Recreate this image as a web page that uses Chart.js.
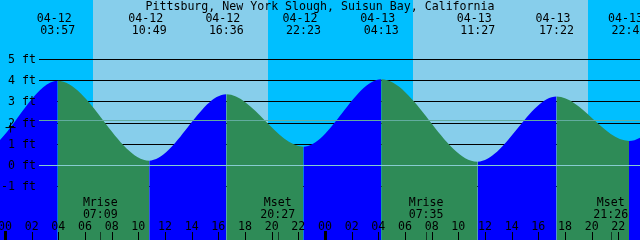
<!DOCTYPE html>
<html><head><meta charset="utf-8">
<script src="https://cdn.jsdelivr.net/npm/chart.js@4.4.1/dist/chart.umd.min.js"></script>
<style>html,body{margin:0;padding:0;background:#00BFFF;}canvas{display:block;}</style>
</head><body>
<canvas id="tideChart" width="640" height="240"></canvas>
<script>
const title = 'Pittsburg, New York Slough, Suisun Bay, California';

// highs and lows (first two and last two lie outside the window, they only shape the curve)
const tideEvents = ['04-11 15:50', '04-11 22:07', '04-12 03:57', '04-12 10:49', '04-12 16:36', '04-12 22:23',
                    '04-13 04:13', '04-13 11:27', '04-13 17:22', '04-13 22:48', '04-14 04:40', '04-14 12:05'];
const tideHeights = [3.4, 0.65, 4.0, 0.23, 3.36, 0.89, 4.07, 0.18, 3.25, 1.16, 4.0, 0.15];
const labelledEvents = [2, 3, 4, 5, 6, 7, 8, 9];

const sunrise = ['04-12 06:35', '04-13 06:35'];
const sunset = ['04-12 19:44', '04-13 19:44'];

const moonNames = ['Mrise', 'Mset', 'Mrise', 'Mset'];
const moonEvents = ['04-12 07:09', '04-12 20:27', '04-13 07:35', '04-13 21:26'];

const heightTicks = [-1, 0, 1, 2, 3, 4, 5];
const hourLabels = ['00', '02', '04', '06', '08', '10', '12', '14', '16', '18', '20', '22'];
const days = ['04-12', '04-13'];
const mslLevel = 2.12;
const datumLevel = 0;
const nowMark = { x: '04-12 00:25', y: 1.79 };

const NIGHT = '#00BFFF', DAY = '#87CEEB', RISE = '#0000FF', FALL = '#2E8B57';
const FONT = '11.6px "DejaVu Sans Mono"';

// 'MM-DD hh:mm' -> hours since 04-12 00:00
function toHours(s) {
    const day = parseInt(s.slice(3, 5), 10) - 12;
    return day * 24 + parseInt(s.slice(6, 8), 10) + parseInt(s.slice(9, 11), 10) / 60;
}

const tidePlugin = {
    id: 'tide',
    beforeDraw(chart) {
        const { ctx, scales: { x, y } } = chart;
        ctx.save();
        ctx.fillStyle = NIGHT; ctx.fillRect(0, 0, 640, 240);
        ctx.fillStyle = DAY;
        sunrise.forEach((r, i) => {
            const a = Math.round(x.getPixelForValue(toHours(r))), b = Math.round(x.getPixelForValue(toHours(sunset[i])));
            ctx.fillRect(a, 0, b - a, 240);
        });
        ctx.fillStyle = '#000';
        heightTicks.forEach(v => ctx.fillRect(39, Math.floor(y.getPixelForValue(v)), 601, 1));
        ctx.restore();
    },
    afterDatasetsDraw(chart) {
        const { ctx, scales: { x, y } } = chart;
        ctx.save();
        ctx.fillStyle = '#62AC9F'; ctx.fillRect(39, Math.floor(y.getPixelForValue(mslLevel)), 601, 1);
        ctx.fillStyle = '#86CCD0'; ctx.fillRect(39, Math.floor(y.getPixelForValue(datumLevel)), 601, 1);

        ctx.font = FONT; ctx.fillStyle = '#000'; ctx.textBaseline = 'alphabetic';
        ctx.textAlign = 'right';
        heightTicks.forEach(v => ctx.fillText(v + ' ft', 36, Math.floor(y.getPixelForValue(v)) + 4));

        ctx.textAlign = 'center';
        ctx.fillText(title, 320, 10);
        labelledEvents.forEach(i => {
            const px = x.getPixelForValue(toHours(tideEvents[i]));
            ctx.fillText(tideEvents[i].slice(0, 5), px - 3.5, 22);
            ctx.fillText(tideEvents[i].slice(6), px, 34);
        });

        moonEvents.forEach((m, i) => {
            const px = x.getPixelForValue(toHours(m));
            ctx.fillText(moonNames[i], px, 206);
            ctx.fillText(m.slice(6), px, 218);
            ctx.fillStyle = 'rgba(0,0,0,0.6)'; ctx.fillRect(Math.round(px), 232, 1, 8); ctx.fillStyle = '#000';
        });

        days.forEach(d => hourLabels.forEach(h => {
            const px = x.getPixelForValue(toHours(d + ' ' + h + ':00'));
            ctx.fillText(h, px, 230);
            if (h === '00') ctx.fillRect(Math.round(px) - 1, 231, 3, 9);
            else ctx.fillRect(Math.round(px), 232, 1, 8);
        }));
        ctx.restore();
    }
};

new Chart(document.getElementById('tideChart'), {
    type: 'line',
    data: {
        datasets: [
            { type: 'scatter', data: [{ x: toHours(nowMark.x), y: nowMark.y }], pointStyle: 'cross', radius: 5, borderColor: '#000', borderWidth: 1, order: 0 },
            {
                data: tideEvents.map((t, i) => ({ x: toHours(t), y: tideHeights[i] })),
                fill: 'start', cubicInterpolationMode: 'monotone', pointRadius: 0, borderWidth: 0, borderColor: 'rgba(0,0,0,0)',
                backgroundColor: RISE,
                segment: { backgroundColor: c => c.p1.parsed.y > c.p0.parsed.y ? RISE : FALL },
                order: 1
            }
        ]
    },
    options: {
        responsive: false, animation: false, devicePixelRatio: 1,
        layout: { padding: 0, autoPadding: false },
        scales: {
            x: { type: 'linear', display: false, min: -0.375, max: 47.625 },
            y: { display: false, min: -3.514, max: 7.807 }
        },
        plugins: { legend: { display: false }, tooltip: { enabled: false }, title: { display: false } }
    },
    plugins: [tidePlugin]
});
</script>
</body></html>
